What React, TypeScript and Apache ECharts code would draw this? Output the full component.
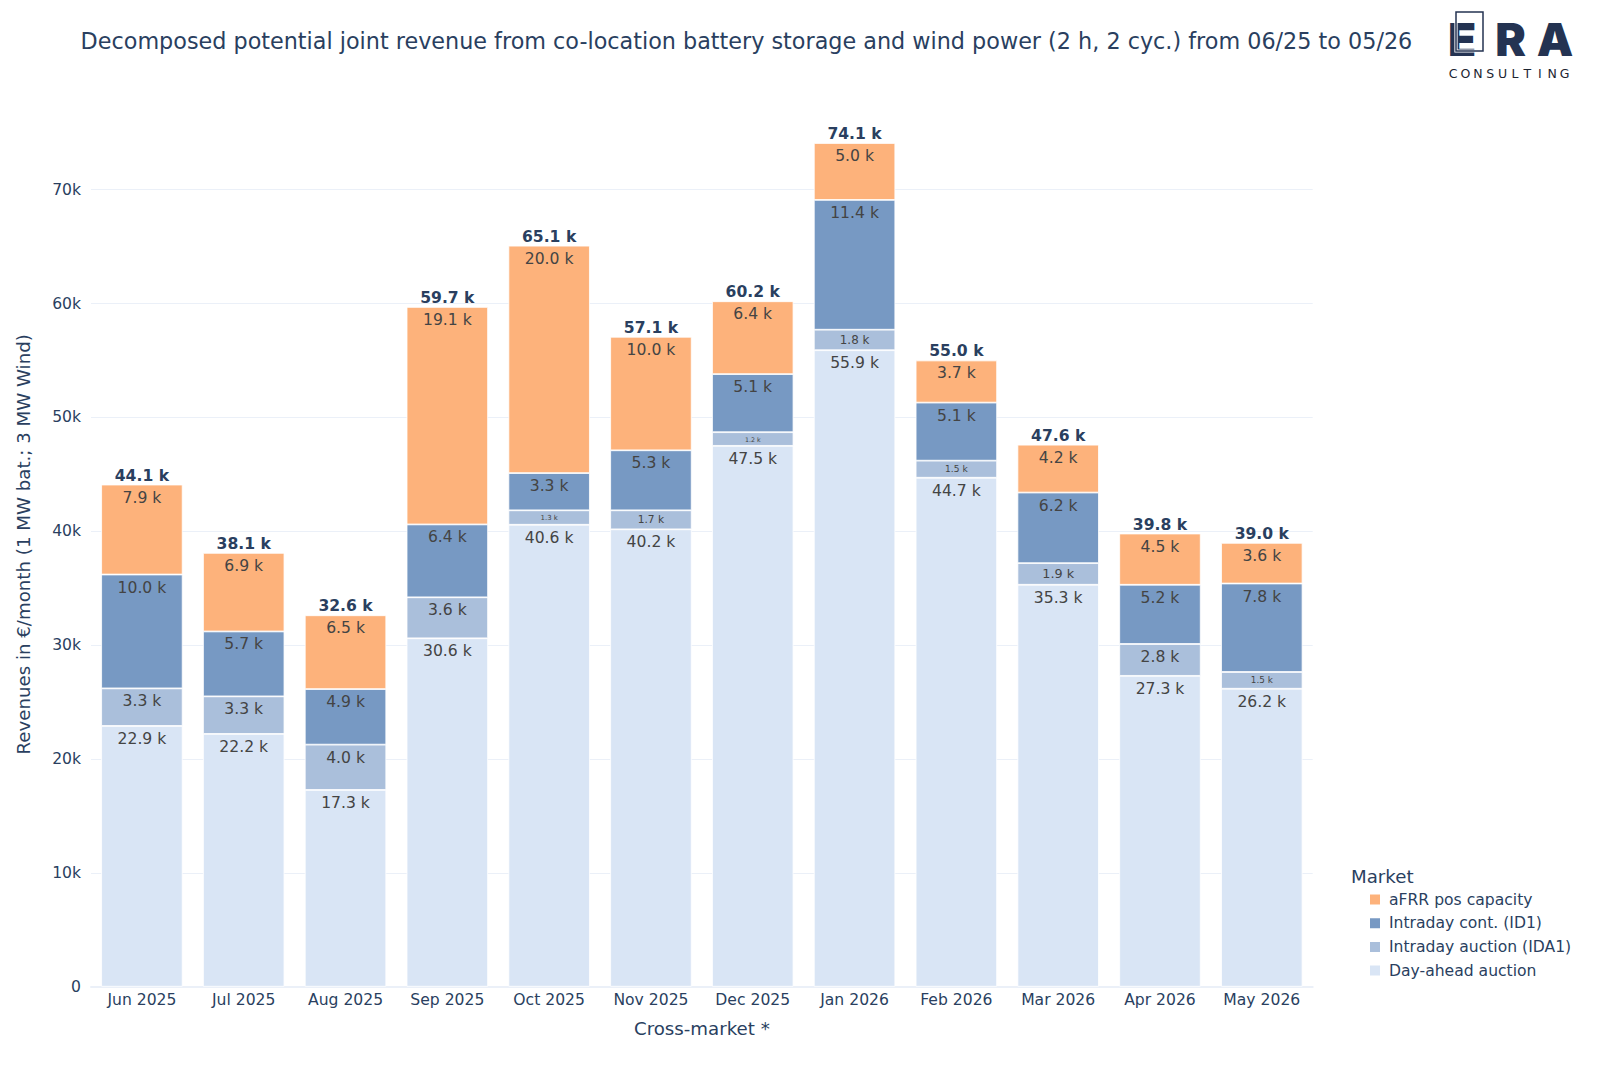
import React, { useEffect, useRef } from "react";
import * as echarts from "echarts";

// Monthly revenue, in thousand € per month (1 MW battery; 3 MW wind)
const months = [
  "Jun 2025", "Jul 2025", "Aug 2025", "Sep 2025", "Oct 2025", "Nov 2025",
  "Dec 2025", "Jan 2026", "Feb 2026", "Mar 2026", "Apr 2026", "May 2026",
];
const dayAhead = [22.9, 22.2, 17.28, 30.6, 40.57, 40.17, 47.5, 55.9, 44.7, 35.3, 27.3, 26.17];
const intradayAuction = [3.3, 3.3, 3.98, 3.6, 1.27, 1.67, 1.2, 1.8, 1.5, 1.9, 2.8, 1.47];
const intradayCont = [10.0, 5.7, 4.88, 6.4, 3.27, 5.27, 5.1, 11.4, 5.1, 6.2, 5.2, 7.77];
const afrrPos = [7.9, 6.9, 6.48, 19.1, 19.97, 9.97, 6.4, 5.0, 3.7, 4.2, 4.5, 3.57];

const seriesNames = [
  "Day-ahead auction",
  "Intraday auction (IDA1)",
  "Intraday cont. (ID1)",
  "aFRR pos capacity",
];
const seriesColors = ["#d9e5f5", "#aabfdb", "#7799c3", "#fdb27b"];

const yTicksMax = 70;
const yInterval = 10;

const TITLE =
  "Decomposed potential joint revenue from co-location battery storage and wind power (2 h, 2 cyc.) from 06/25 to 05/26";

const FONT = "'DejaVu Sans', Verdana, sans-serif";
const NAVY = "#2a3f5f";
const LOGO = "#243352";

const W = 1600;
const H = 1067;
const GRID = { left: 91, right: 287.3, top: 102, bottom: 80.3 };
const Y_MAX = 77.7;

export default function App() {
  const ref = useRef<HTMLDivElement>(null);

  useEffect(() => {
    if (!ref.current) return;
    const chart = echarts.init(ref.current, null, { renderer: "svg" });

    const pxPerUnit = (H - GRID.top - GRID.bottom) / Y_MAX;
    const baseFont = 15.6;

    // segment labels shrink to fit thin segments
    const segmentData = (values: number[]) =>
      values.map((v) => {
        const h = v * pxPerUnit;
        const fit = (h - 6) / 1.22;
        const fontSize = Math.min(baseFont, Math.max(5, fit));
        const fits = fit >= baseFont;
        return {
          value: v,
          label: fits
            ? { position: "insideTop", distance: 5, fontSize }
            : { position: "inside", fontSize },
        };
      });

    const stacks = [dayAhead, intradayAuction, intradayCont, afrrPos];
    const totals = months.map((_, i) => stacks.reduce((s, arr) => s + arr[i], 0));

    const barSeries: any[] = stacks.map((values, k) => ({
      name: seriesNames[k],
      type: "bar",
      stack: "rev",
      barCategoryGap: "20%",
      data: segmentData(values),
      itemStyle: { color: seriesColors[k], borderColor: "#ffffff", borderWidth: 0.8 },
      label: {
        show: true,
        color: "#444444",
        fontFamily: FONT,
        formatter: (p: any) => `${Number(p.value).toFixed(1)} k`,
      },
      emphasis: { disabled: true },
    }));

    barSeries.push({
      name: "Total",
      type: "bar",
      stack: "rev",
      data: totals.map(() => 0),
      itemStyle: { color: "transparent" },
      label: {
        show: true,
        position: "top",
        distance: 1,
        color: NAVY,
        fontFamily: FONT,
        fontWeight: "bold",
        fontSize: 15.6,
        formatter: (p: any) => `${totals[p.dataIndex].toFixed(1)} k`,
      },
      silent: true,
      emphasis: { disabled: true },
    });

    const gridColors = Array.from({ length: yTicksMax / yInterval + 1 }, () => "#ebf0f8");
    gridColors.push("transparent");

    const logoLetters = ["E", "R", "A"];
    const logoCenters = [1462, 1510.5, 1555];
    const consulting = "CONSULTING".split("");

    const graphics: any[] = [
      {
        type: "text",
        left: 80.6,
        top: 30,
        style: { text: TITLE, font: `22.3px ${FONT}`, fill: NAVY },
      },
      {
        type: "text",
        x: 1351,
        y: 876,
        style: { text: "Market", font: `18.2px ${FONT}`, fill: NAVY, verticalAlign: "middle" },
      },
      ...logoLetters.map((ch, i) => ({
        type: "text",
        x: logoCenters[i],
        y: 39,
        style: {
          text: ch,
          font: `900 46px Inter, 'DejaVu Sans', sans-serif`,
          fill: LOGO,
          align: "center",
          verticalAlign: "middle",
        },
      })),
      {
        type: "rect",
        shape: { x: 1456, y: 12, width: 27, height: 39 },
        style: { fill: "none", stroke: "#ffffff", lineWidth: 3.2 },
      },
      {
        type: "rect",
        shape: { x: 1456, y: 12, width: 27, height: 39 },
        style: { fill: "none", stroke: LOGO, lineWidth: 1.5 },
      },
      ...consulting.map((ch, i) => ({
        type: "text",
        x: 1453 + i * 12.4,
        y: 73,
        style: {
          text: ch,
          font: `12.5px ${FONT}`,
          fill: "#1c2431",
          align: "center",
          verticalAlign: "middle",
        },
      })),
    ];

    chart.setOption({
      animation: false,
      backgroundColor: "#ffffff",
      textStyle: { fontFamily: FONT },
      grid: { ...GRID, containLabel: false },
      legend: {
        data: ["aFRR pos capacity", "Intraday cont. (ID1)", "Intraday auction (IDA1)", "Day-ahead auction"],
        orient: "vertical",
        left: 1363,
        top: 886.5,
        itemWidth: 12,
        itemHeight: 12,
        itemGap: 7.7,
        icon: "rect",
        textStyle: {
          color: NAVY,
          fontSize: 15.6,
          fontFamily: FONT,
          lineHeight: 16,
          padding: [0, 0, 0, 3],
        },
        selectedMode: false,
      },
      xAxis: {
        type: "category",
        data: months,
        name: "Cross-market *",
        nameLocation: "middle",
        nameGap: 33,
        nameTextStyle: { color: NAVY, fontSize: 18.2, fontFamily: FONT },
        axisLine: { show: true, lineStyle: { color: "#ebf0f8", width: 2 } },
        axisTick: { show: false },
        axisLabel: { color: NAVY, fontSize: 15.6, fontFamily: FONT, margin: 5 },
      },
      yAxis: {
        type: "value",
        min: 0,
        max: Y_MAX,
        interval: yInterval,
        name: "Revenues in €/month (1 MW bat.; 3 MW Wind)",
        nameLocation: "middle",
        nameGap: 59,
        nameTextStyle: { color: NAVY, fontSize: 18.2, fontFamily: FONT },
        axisLine: { show: false },
        axisTick: { show: false },
        axisLabel: {
          color: NAVY,
          fontSize: 15.6,
          fontFamily: FONT,
          margin: 10,
          formatter: (v: number) =>
            Math.abs(v % yInterval) > 1e-6 ? "" : v === 0 ? "0" : `${v}k`,
        },
        splitLine: { show: true, lineStyle: { color: gridColors, width: 1 } },
      },
      series: barSeries,
      graphic: graphics,
    });

    return () => chart.dispose();
  }, []);

  return (
    <div
      ref={ref}
      style={{ position: "absolute", left: 0, top: 0, width: W, height: H, background: "#fff" }}
    />
  );
}
